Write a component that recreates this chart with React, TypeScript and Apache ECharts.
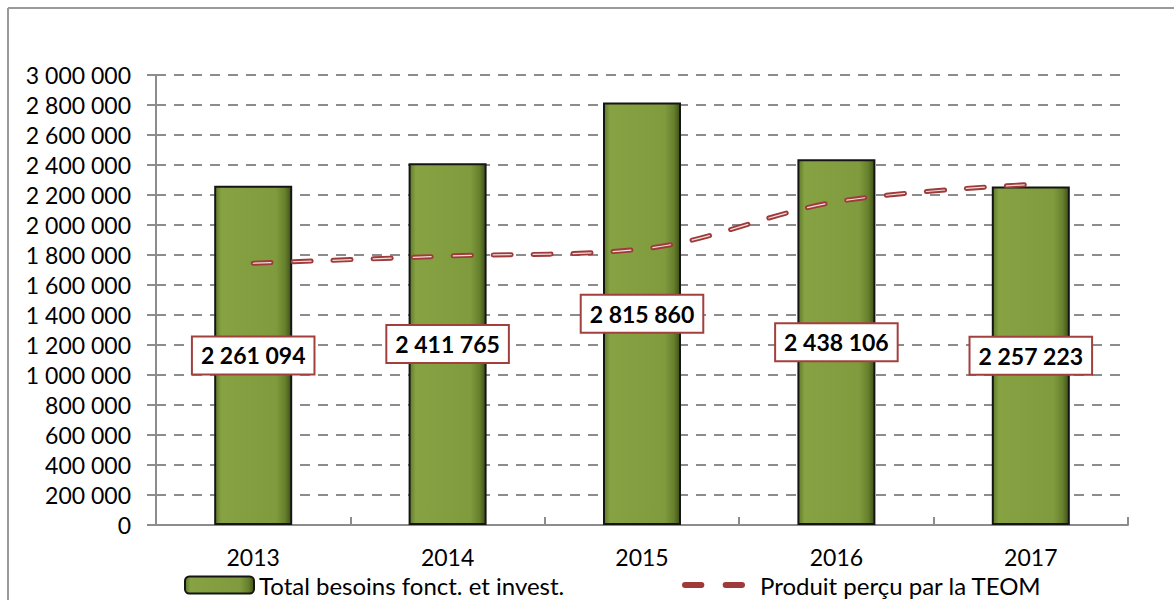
import React, { useEffect, useRef } from "react";
import * as echarts from "echarts";

const categories = ["2013", "2014", "2015", "2016", "2017"];
const besoins = [2261094, 2411765, 2815860, 2438106, 2257223];
const teom = [1745000, 1793000, 1840000, 2155000, 2270000];
const seriesNames = ["Total besoins fonct. et invest.", "Produit perçu par la TEOM"];

const fmt = (v: number) =>
  String(Math.round(v)).replace(/\B(?=(\d{3})+(?!\d))/g, " ");

const FONT = "Lato";

export default function App() {
  const ref = useRef<HTMLDivElement>(null);
  useEffect(() => {
    if (!ref.current) return;
    const chart = echarts.init(ref.current, null, { renderer: "svg" });
    const barGrad = new echarts.graphic.LinearGradient(0, 0, 1, 0, [
      { offset: 0, color: "#5f7a28" },
      { offset: 0.08, color: "#86a243" },
      { offset: 0.8, color: "#7f9b3d" },
      { offset: 0.92, color: "#66802c" },
      { offset: 1, color: "#3f5018" },
    ]);
    const lineDash = [18, 22];
    chart.setOption({
      animation: false,
      textStyle: { fontFamily: FONT },
      grid: { left: 156, right: 46, top: 75, bottom: 75, containLabel: false },
      graphic: [
        { type: "line", shape: { x1: 8, y1: 8, x2: 1174, y2: 8 }, style: { stroke: "#9a9a9a", lineWidth: 2 } },
        { type: "line", shape: { x1: 8, y1: 8, x2: 8, y2: 600 }, style: { stroke: "#9a9a9a", lineWidth: 2 } },
      ],
      legend: [
        {
          data: [seriesNames[0]],
          left: 179,
          top: 568,
          itemWidth: 69,
          itemHeight: 17,
          itemGap: 8,
          textStyle: { fontSize: 24, color: "#000", fontFamily: FONT },
        },
        {
          data: [
            {
              name: seriesNames[1],
              icon: "path://M3,0 h16 a3,3 0 0 1 0,6 h-16 a3,3 0 0 1 0,-6 z M43,0 h16 a3,3 0 0 1 0,6 h-16 a3,3 0 0 1 0,-6 z",
            },
          ],
          left: 677,
          top: 568,
          itemWidth: 63,
          itemHeight: 17,
          itemGap: 14,
          textStyle: { fontSize: 24, color: "#000", fontFamily: FONT, padding: [0, 0, 0, 10] },
        },
      ],
      xAxis: {
        type: "category",
        data: categories,
        boundaryGap: true,
        axisLine: { lineStyle: { color: "#8c8c8c", width: 2 } },
        axisTick: { show: true, inside: true, length: 8, lineStyle: { color: "#8c8c8c", width: 2 } },
        axisLabel: { fontSize: 23, color: "#000", margin: 20, fontFamily: FONT },
      },
      yAxis: {
        type: "value",
        min: 0,
        max: 3000000,
        interval: 200000,
        axisLine: { show: true, lineStyle: { color: "#8c8c8c", width: 2 } },
        axisTick: { show: true, length: 9, lineStyle: { color: "#8c8c8c", width: 2 } },
        axisLabel: { fontSize: 23, color: "#000", margin: 25, formatter: (v: number) => fmt(v), fontFamily: FONT },
        splitLine: { show: true, lineStyle: { color: "#8c8c8c", width: 2, type: [10, 8] } },
      },
      series: [
        {
          name: seriesNames[0],
          type: "bar",
          data: besoins,
          barWidth: 78,
          itemStyle: { color: barGrad, borderColor: "#151515", borderWidth: 2 },
          label: {
            show: true,
            position: "inside",
            formatter: (p: any) => fmt(p.value),
            fontSize: 23,
            fontWeight: "bold",
            color: "#000",
            fontFamily: FONT,
            backgroundColor: "#fff",
            borderColor: "#a2403e",
            borderWidth: 2,
            padding: [7, 8, 6, 8],
          },
          z: 2,
        },
        {
          name: seriesNames[1],
          type: "line",
          data: teom,
          smooth: 0.35,
          symbol: "none",
          color: "#9e3a39",
          lineStyle: { color: "#9e3a39", width: 5, type: lineDash, cap: "round" },
          z: 3,
        },
        {
          name: "teom-highlight",
          type: "line",
          data: teom,
          smooth: 0.35,
          symbol: "none",
          silent: true,
          color: "#f3dede",
          lineStyle: { color: "#f3dede", width: 1.2, type: lineDash, cap: "round" },
          z: 4,
        },
      ],
    });
    return () => chart.dispose();
  }, []);
  return (
    <div
      ref={ref}
      style={{ position: "fixed", left: 0, top: 0, width: 1174, height: 600, background: "#fff" }}
    />
  );
}
